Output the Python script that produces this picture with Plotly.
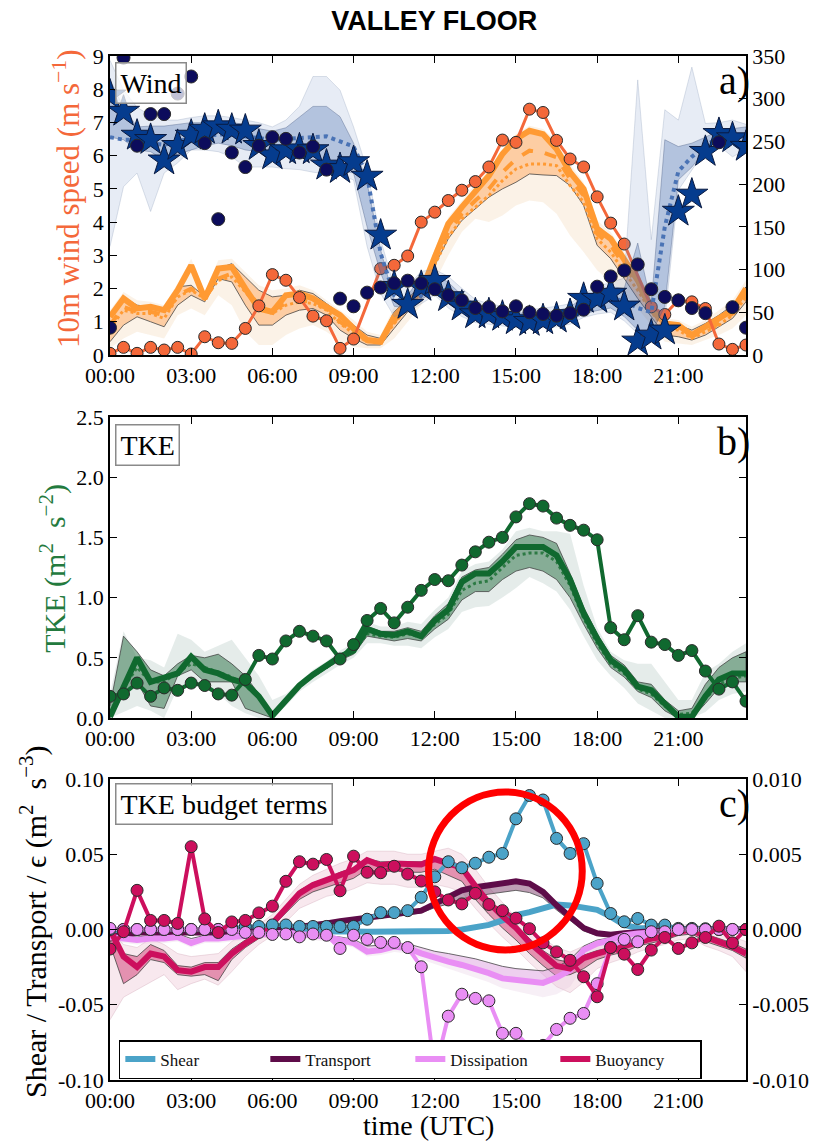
import plotly.graph_objects as go

SERIF = "Liberation Serif, Times New Roman, serif"

# ---------------- time axis (hours UTC, 30-min steps) ----------------
T = [0.0, 0.5, 1.0, 1.5, 2.0, 2.5, 3.0, 3.5, 4.0, 4.5, 5.0, 5.5, 6.0, 6.5, 7.0, 7.5,
     8.0, 8.5, 9.0, 9.5, 10.0, 10.5, 11.0, 11.5, 12.0, 12.5, 13.0, 13.5, 14.0, 14.5,
     15.0, 15.5, 16.0, 16.5, 17.0, 17.5, 18.0, 18.5, 19.0, 19.5, 20.0, 20.5, 21.0,
     21.5, 22.0, 22.5, 23.0, 23.5]
HOUR_TICKS = [0, 3, 6, 9, 12, 15, 18, 21]
HOUR_LABELS = ["00:00", "03:00", "06:00", "09:00", "12:00", "15:00", "18:00", "21:00"]

# ---------------- panel a: wind ----------------
wspd_obs = [0.05, 0.23, 0.05, 0.23, 0.15, 0.23, 0.03, 0.55, 0.37, 0.35, 0.8, 1.48, 2.42, 2.25,
            1.73, 1.17, 1.03, 0.2, 0.48, None, 2.6, 2.7, 2.98, 4.0, 4.3, 4.65, 4.96, 5.22, 5.66,
            6.47, 6.4, 7.4, 7.3, 6.46, 5.9, 5.66, 4.76, 3.97, 3.34, None, 1.45, 1.22, 1.65, 1.6,
            1.4, 0.33, 0.17, 0.3]
wspd_main = [1.15, 1.7, 1.4, 1.45, 1.35, 1.95, 2.7, 1.7, 2.6, 2.65, 2.0, 1.4, 1.3, 1.8, 1.85,
             1.7, 1.45, 1.2, 0.8, 0.45, 0.4, 1.15, 1.6, 1.9, 2.95, 3.95, 4.45, 4.95, 5.4, 6.05,
             6.5, 6.75, 6.65, 6.2, 5.5, 5.0, 3.8, 3.5, 2.9, 2.25, 1.4, 0.95, 0.9, 0.6, 0.85, 1.1,
             1.35, 2.0]
wspd_dash = [0.9, 1.45, 1.3, 1.3, 1.2, 1.8, 2.0, 1.7, 2.3, 2.45, 2.0, 1.5, 1.35, 1.55, 1.65, 1.6,
             1.4, 1.0, 0.7, 0.45, 0.4, 1.0, 1.5, 1.85, 2.8, 3.7, 4.25, 4.65, 5.0, 5.5, 5.9, 6.15,
             6.1, 5.95, 5.3, 4.8, 3.65, 3.3, 2.7, 2.1, 1.35, 0.85, 0.8, 0.55, 0.75, 0.95, 1.25, 1.85]
wspd_dot = [0.8, 1.35, 1.25, 1.25, 1.1, 1.75, 1.95, 1.7, 2.25, 2.35, 1.9, 1.4, 1.25, 1.5, 1.6,
            1.55, 1.35, 0.95, 0.65, 0.4, 0.4, 0.95, 1.45, 1.8, 2.72, 3.55, 4.1, 4.45, 4.8, 5.25,
            5.6, 5.75, 5.75, 5.7, 5.1, 4.6, 3.5, 3.1, 2.5, 1.95, 1.3, 0.8, 0.75, 0.5, 0.7, 0.9,
            1.2, 1.75]
wspd_dhi = [1.2, 1.75, 1.5, 1.45, 1.35, 2.05, 2.1, 1.75, 2.6, 2.75, 2.35, 1.95, 1.75, 1.8, 1.95,
            1.85, 1.55, 1.25, 0.9, 0.6, 0.5, 1.3, 1.7, 2.1, 3.0, 4.0, 4.5, 5.0, 5.45, 6.1, 6.55,
            6.8, 6.7, 6.3, 5.6, 5.05, 3.9, 3.55, 2.95, 2.3, 1.6, 0.95, 0.9, 0.75, 0.95, 1.2, 1.5, 2.05]
wspd_dlo = [0.4, 0.9, 1.15, 1.0, 0.85, 1.5, 1.8, 1.6, 2.3, 2.2, 1.5, 0.9, 0.9, 1.2, 1.35, 1.4,
            1.2, 0.75, 0.5, 0.3, 0.3, 0.8, 1.3, 1.7, 2.7, 3.5, 4.05, 4.4, 4.75, 5.0, 5.2, 5.45,
            5.42, 5.4, 5.1, 4.5, 3.3, 2.9, 2.3, 1.7, 1.15, 0.6, 0.55, 0.45, 0.6, 0.85, 1.1, 1.6]
wspd_lhi = [1.35, 1.9, 1.65, 1.6, 1.5, 2.15, 2.9, 1.9, 2.85, 2.9, 2.5, 2.1, 1.95, 2.0, 2.1, 1.95,
            1.65, 1.35, 1.05, 0.7, 0.6, 1.45, 1.8, 2.2, 3.15, 4.15, 4.65, 5.15, 5.6, 6.2, 6.65,
            6.9, 6.8, 6.45, 5.75, 5.2, 4.05, 3.7, 3.1, 2.45, 1.75, 1.1, 1.05, 0.85, 1.05, 1.35,
            1.65, 2.25]
wspd_llo = [0.2, 0.5, 0.7, 0.6, 0.5, 1.2, 1.4, 1.2, 1.8, 1.5, 0.7, 0.3, 0.3, 0.6, 0.8, 0.9, 0.7,
            0.4, 0.25, 0.2, 0.2, 0.5, 1.0, 1.5, 2.2, 3.0, 3.7, 4.1, 4.0, 4.2, 4.5, 4.65, 4.6,
            4.25, 3.6, 3.1, 2.55, 2.2, 1.85, 1.4, 0.9, 0.4, 0.35, 0.3, 0.45, 0.6, 0.8, 1.2]

wdir_obs = [32, 348, 245, 282, 282, 306, 326, 248, 159, 237, 220, 245, 255, 253, 237, 244, 217,
            66, 57, 73, 79, 84, 87, 84, 77, 70, 64, 55, 56, 51, 57, 50, 48, 46, 49, 53, 80, 92,
            99, 106, 77, 68, 64, 55, 49, 249, 56, 32]
wdir_star = [304, 285, 257, 252, 228, 245, 257, 264, 268, 264, 263, 245, 234, 240, 241, 240, 222,
             218, 226, 209, 140, 80, 59, 80, 87, 68, 57, 48, 48, 45, 41, 39, 41, 43, 47, 66, 66,
             72, 57, 16, 23, 29, 168, 188, 238, 259, 254, 244]
wdir_dot = [255, 252, 252, 248, 246, 250, 254, 256, 258, 258, 256, 254, 252, 253, 254, 256, 256,
            250, 244, 210, 119, 70, 60, 70, 85, 72, 60, 52, 48, 45, 44, 43, 44, 46, 50, 58, 62,
            66, 64, 55, 50, 150, 215, 232, 245, 255, 258, 255]
wdir_dhi = [322, 290, 267, 268, 268, 270, 272, 272, 274, 272, 270, 265, 262, 266, 278, 291, 291,
            279, 248, 201, 123, 64, 70, 92, 95, 85, 70, 60, 55, 52, 50, 48, 50, 52, 56, 68, 75,
            80, 78, 131, 60, 252, 244, 248, 255, 263, 265, 267]
wdir_dlo = [255, 252, 240, 238, 228, 235, 240, 245, 248, 245, 240, 238, 236, 235, 234, 228, 220,
            216, 213, 150, 96, 57, 55, 65, 75, 60, 50, 42, 40, 38, 36, 35, 36, 37, 40, 48, 52, 55,
            45, 29, 25, 57, 205, 220, 240, 252, 252, 250]
wdir_lhi = [345, 310, 290, 280, 275, 275, 278, 280, 280, 278, 275, 272, 267, 275, 291, 326, 326,
            310, 267, 217, 135, 80, 80, 98, 100, 92, 78, 65, 60, 57, 55, 53, 55, 57, 60, 72, 80,
            85, 90, 322, 135, 287, 275, 337, 271, 272, 275, 270]
wdir_llo = [127, 197, 213, 168, 213, 225, 240, 240, 238, 232, 220, 220, 220, 218, 217, 214, 212,
            210, 205, 127, 72, 45, 50, 60, 70, 55, 45, 38, 36, 34, 32, 31, 32, 33, 36, 44, 48, 50,
            40, 25, 25, 41, 193, 216, 240, 245, 232, 240]

# ---------------- panel b: TKE ----------------
tke_obs = [0.18, 0.2, 0.29, 0.18, 0.25, 0.23, 0.29, 0.27, 0.2, 0.19, 0.32, 0.52, 0.49, 0.64, 0.72,
           0.68, 0.64, 0.49, 0.61, 0.81, 0.91, 0.79, 0.92, 1.06, 1.15, 1.14, 1.27, 1.38, 1.46,
           1.5, 1.67, 1.78, 1.76, 1.66, 1.6, 1.56, 1.48, 0.75, 0.65, 0.85, 0.63, 0.61, 0.52,
           0.56, 0.39, 0.24, 0.3, 0.14]
tke_main = [0.01, 0.27, 0.5, 0.3, 0.33, 0.37, 0.51, 0.4, 0.37, 0.32, 0.29, 0.18, 0.02, 0.15, 0.27,
            0.36, 0.43, 0.51, 0.56, 0.74, 0.7, 0.69, 0.72, 0.68, 0.81, 0.9, 1.13, 1.2, 1.2, 1.3,
            1.42, 1.42, 1.42, 1.35, 1.15, 0.87, 0.66, 0.48, 0.4, 0.26, 0.23, 0.12, 0.01, 0.01,
            0.18, 0.32, 0.37, 0.37]
tke_dot = [0.05, 0.25, 0.42, 0.3, 0.3, 0.38, 0.45, 0.42, 0.38, 0.34, 0.27, 0.17, 0.03, 0.15, 0.27,
           0.35, 0.42, 0.5, 0.55, 0.7, 0.68, 0.67, 0.7, 0.67, 0.78, 0.86, 1.06, 1.12, 1.14, 1.25,
           1.35, 1.37, 1.37, 1.3, 1.1, 0.83, 0.62, 0.45, 0.37, 0.24, 0.2, 0.1, 0.03, 0.04, 0.16,
           0.28, 0.33, 0.35]
tke_dhi = [0.1, 0.68, 0.55, 0.4, 0.35, 0.45, 0.52, 0.5, 0.53, 0.45, 0.35, 0.2, 0.05, 0.16, 0.28,
           0.37, 0.44, 0.53, 0.58, 0.76, 0.72, 0.72, 0.75, 0.72, 0.85, 0.95, 1.17, 1.23, 1.25,
           1.36, 1.48, 1.52, 1.5, 1.45, 1.2, 0.92, 0.7, 0.52, 0.44, 0.3, 0.28, 0.15, 0.06, 0.08,
           0.28, 0.42, 0.5, 0.55]
tke_dlo = [0.0, 0.2, 0.3, 0.1, 0.08, 0.35, 0.4, 0.3, 0.3, 0.3, 0.08, 0.04, 0.0, 0.13, 0.25, 0.34,
           0.41, 0.48, 0.53, 0.68, 0.66, 0.64, 0.66, 0.64, 0.74, 0.82, 0.98, 1.05, 1.05, 1.15,
           1.22, 1.25, 1.22, 1.15, 1.0, 0.78, 0.58, 0.42, 0.34, 0.22, 0.17, 0.06, 0.0, 0.0, 0.12,
           0.25, 0.3, 0.3]
tke_lhi = [0.2, 0.72, 0.5, 0.48, 0.42, 0.7, 0.65, 0.55, 0.6, 0.65, 0.5, 0.35, 0.15, 0.2, 0.3, 0.4,
           0.47, 0.56, 0.62, 0.8, 0.76, 0.76, 0.8, 0.78, 0.9, 1.0, 1.22, 1.28, 1.3, 1.4, 1.55,
           1.58, 1.55, 1.55, 1.53, 1.1, 0.75, 0.55, 0.48, 0.45, 0.45, 0.3, 0.15, 0.15, 0.38,
           0.45, 0.55, 0.62]
tke_llo = [0.0, 0.05, 0.1, 0.06, 0.0, 0.25, 0.3, 0.25, 0.2, 0.1, 0.04, 0.0, 0.0, 0.1, 0.22, 0.3,
           0.37, 0.44, 0.5, 0.62, 0.62, 0.6, 0.6, 0.58, 0.67, 0.74, 0.88, 0.92, 0.93, 1.0, 1.08,
           1.17, 1.12, 1.05, 0.9, 0.68, 0.48, 0.35, 0.25, 0.12, 0.06, 0.0, 0.0, 0.0, 0.05, 0.15,
           0.2, 0.22]

# ---------------- panel c: TKE budget ----------------
buoy_obs = [-0.013, -0.0015, 0.026, 0.006, 0.006, 0.004, 0.055, 0.007, -0.002, 0.005, 0.006,
            0.011, 0.0155, 0.032, 0.045, 0.0434, 0.0465, 0.0257, 0.0487, 0.038, 0.0377, 0.042,
            0.0368, 0.0322, 0.025, 0.0196, 0.017, 0.024, 0.0166, 0.0125, 0.0075, 0.0005, -0.0089,
            -0.0149, -0.0205, -0.0314, -0.0447, -0.012, -0.0164, -0.0266, -0.0137, -0.0053,
            -0.0126, -0.0089, -0.0053, 0.0022, -0.0089, 0.0]
shear_obs = [0.0, 0.0, 0.0, 0.0, 0.0, 0.0, 0.0, 0.0, 0.0, 0.001, 0.002, 0.002, 0.003, 0.003, 0.002,
             0.002, 0.002, 0.002, 0.002, 0.0068, 0.0112, 0.0112, 0.0125, 0.0214, 0.035, 0.045,
             0.041, 0.044, 0.048, 0.0505, 0.0735, 0.089, 0.086, 0.0605, 0.0505, 0.057, 0.0306,
             0.0106, 0.0051, 0.0073, 0.0029, 0.0029, 0.0007, 0.0007, 0.0005, 0.0, 0.0, 0.0]
diss_obs = [0.0007, 0.0, 0.0, 0.0, 0.0, 0.0, 0.0, 0.0, 0.0, 0.0, -0.002, -0.002, -0.0033, -0.003,
            -0.0049, -0.003, -0.0038, -0.0126, -0.0038, -0.0066, -0.0086, -0.0086, -0.012,
            -0.0248, -0.094, -0.0576, -0.043, -0.0458, -0.0474, -0.069, -0.069, -0.078, -0.077,
            -0.0664, -0.059, -0.0558, -0.036, -0.012, -0.0066, -0.0082, -0.0015, -0.0015, 0.0,
            0.0, 0.0, 0.0, 0.0, 0.0]
shear_mod = [-0.0005, -0.0005, -0.0005, -0.0005, -0.0005, -0.0005, -0.0005, -0.0005, -0.0005,
             -0.0005, -0.0005, -0.0005, -0.0005, -0.001, -0.001, -0.001, -0.0012, -0.0013,
             -0.0014, -0.0015, -0.0015, -0.0015, -0.0015, -0.0015, -0.0012, -0.001, 0.0, 0.001,
             0.003, 0.006, 0.0095, 0.0115, 0.0145, 0.0165, 0.016, 0.015, 0.013, 0.0085, 0.003,
             0.001, 0.0005, 0.0005, 0.0003, 0.0002, 0.0002, 0.0, 0.0, 0.0]
trans_mod = [-0.005, -0.003, -0.002, -0.002, -0.002, -0.002, -0.002, -0.002, -0.002, -0.001,
             -0.001, -0.0005, 0.0, 0.0007, 0.0015, 0.003, 0.004, 0.0055, 0.0065, 0.0075, 0.009,
             0.0095, 0.0105, 0.0125, 0.017, 0.021, 0.026, 0.028, 0.0295, 0.031, 0.032, 0.0305,
             0.025, 0.016, 0.008, 0.001, -0.0025, -0.0035, -0.0025, -0.0015, -0.001, -0.0005,
             0.0, 0.0, 0.0, 0.0, 0.0, 0.0]
trans_hi = [-0.004, -0.002, -0.001, -0.001, -0.001, -0.001, -0.001, -0.001, -0.001, 0.0, 0.0,
            0.0005, 0.001, 0.0015, 0.0025, 0.004, 0.005, 0.0065, 0.0075, 0.0085, 0.01, 0.0105,
            0.0115, 0.0135, 0.018, 0.022, 0.027, 0.029, 0.0305, 0.032, 0.033, 0.0315, 0.026,
            0.017, 0.009, 0.002, -0.0015, -0.0025, -0.0015, -0.0005, 0.0, 0.0005, 0.001, 0.001,
            0.001, 0.001, 0.001, 0.001]
trans_lo = [-0.008, -0.005, -0.003, -0.003, -0.003, -0.003, -0.003, -0.003, -0.003, -0.002,
            -0.002, -0.0015, -0.001, 0.0, 0.0008, 0.002, 0.003, 0.0045, 0.0055, 0.0065, 0.008,
            0.0085, 0.0095, 0.011, 0.0145, 0.017, 0.0205, 0.022, 0.0235, 0.025, 0.026, 0.0245,
            0.021, 0.013, 0.006, -0.001, -0.004, -0.005, -0.004, -0.003, -0.002, -0.0015, -0.001,
            -0.001, -0.001, -0.001, -0.001, -0.001]
diss_mod = [-0.005, -0.006, -0.007, -0.006, -0.006, -0.005, -0.009, -0.006, -0.006, -0.005,
            -0.004, -0.003, -0.002, -0.002, -0.003, -0.004, -0.0048, -0.0069, -0.009, -0.0147,
            -0.0136, -0.0114, -0.0125, -0.0159, -0.019, -0.0214, -0.0236, -0.0258, -0.029,
            -0.0325, -0.0336, -0.035, -0.0355, -0.032, -0.027, -0.0137, -0.0093, -0.0071,
            -0.0038, -0.0027, -0.002, -0.001, -0.001, -0.001, -0.001, -0.001, -0.001, -0.001]
diss_hi = [-0.003, -0.004, -0.005, -0.004, -0.004, -0.003, -0.006, -0.004, -0.004, -0.003, -0.002,
           -0.0015, -0.001, -0.001, -0.002, -0.003, -0.0035, -0.005, -0.0065, -0.011, -0.0105,
           -0.009, -0.0095, -0.012, -0.0145, -0.016, -0.0175, -0.0195, -0.022, -0.0245, -0.026,
           -0.027, -0.0275, -0.025, -0.02, -0.011, -0.007, -0.0055, -0.0028, -0.002, -0.0015,
           -0.0007, -0.0007, -0.0007, -0.0007, -0.0007, -0.0007, -0.0007]
diss_llo = [-0.008, -0.009, -0.01, -0.009, -0.009, -0.008, -0.012, -0.009, -0.009, -0.008, -0.007,
            -0.006, -0.005, -0.005, -0.006, -0.007, -0.008, -0.01, -0.012, -0.018, -0.017,
            -0.015, -0.016, -0.02, -0.023, -0.026, -0.029, -0.032, -0.035, -0.039, -0.041,
            -0.043, -0.045, -0.043, -0.038, -0.024, -0.015, -0.011, -0.007, -0.005, -0.004,
            -0.003, -0.003, -0.003, -0.003, -0.003, -0.003, -0.003]
buoy_mod = [0.0, -0.018, -0.025, -0.016, -0.018, -0.027, -0.028, -0.025, -0.025, -0.016, -0.0093,
            -0.0038, 0.004, 0.014, 0.024, 0.0295, 0.0328, 0.037, 0.0394, 0.046, 0.0427, 0.0438,
            0.0432, 0.0432, 0.0468, 0.0443, 0.041, 0.0288, 0.0177, 0.0089, 0.0011, -0.0088,
            -0.0166, -0.0243, -0.026, -0.019, -0.016, -0.0137, -0.0115, -0.0082, -0.006, -0.0049,
            -0.0015, 0.0, -0.0049, -0.0082, -0.0115, -0.016]
buoy_dhi = [0.0, -0.016, -0.018, -0.01, -0.014, -0.024, -0.025, -0.022, -0.022, -0.013, -0.007,
            -0.002, 0.006, 0.016, 0.026, 0.031, 0.034, 0.038, 0.041, 0.047, 0.045, 0.045, 0.045,
            0.045, 0.047, 0.045, 0.042, 0.031, 0.02, 0.011, 0.003, -0.006, -0.014, -0.02, -0.022,
            -0.017, -0.014, -0.012, -0.01, -0.007, -0.005, -0.004, -0.001, 0.001, -0.003, -0.006,
            -0.009, -0.013]
buoy_dlo = [-0.01, -0.036, -0.03, -0.02, -0.022, -0.03, -0.031, -0.03, -0.034, -0.02, -0.012,
            -0.006, 0.002, 0.011, 0.02, 0.025, 0.028, 0.031, 0.034, 0.04, 0.038, 0.039, 0.038,
            0.038, 0.04, 0.036, 0.032, 0.02, 0.01, 0.001, -0.007, -0.016, -0.024, -0.031, -0.03,
            -0.026, -0.02, -0.017, -0.015, -0.011, -0.009, -0.007, -0.004, -0.003, -0.008, -0.011,
            -0.014, -0.019]
buoy_lhi = [0.0, -0.01, -0.012, -0.006, -0.01, -0.016, -0.018, -0.017, -0.016, -0.008, -0.002,
            0.003, 0.01, 0.02, 0.03, 0.036, 0.04, 0.044, 0.047, 0.052, 0.052, 0.052, 0.05, 0.05,
            0.052, 0.054, 0.05, 0.04, 0.028, 0.018, 0.008, 0.0, -0.006, -0.012, -0.015, -0.011,
            -0.009, -0.008, -0.006, -0.004, -0.002, -0.001, 0.002, 0.004, 0.001, -0.002, -0.005,
            -0.008]
buoy_llo = [-0.06, -0.045, -0.04, -0.035, -0.03, -0.04, -0.036, -0.033, -0.037, -0.028, -0.018,
            -0.01, -0.004, 0.005, 0.014, 0.018, 0.022, 0.024, 0.027, 0.031, 0.03, 0.03, 0.028,
            0.028, 0.03, 0.028, 0.025, 0.014, 0.004, -0.005, -0.013, -0.022, -0.03, -0.038,
            -0.042, -0.035, -0.026, -0.022, -0.019, -0.015, -0.012, -0.01, -0.007, -0.006, -0.011,
            -0.014, -0.018, -0.028]

A_LEFT_TICKS = [0, 1, 2, 3, 4, 5, 6, 7, 8, 9]
A_RIGHT_TICKS = [0, 50, 100, 150, 200, 250, 300, 350]
B_TICKS = [0.0, 0.5, 1.0, 1.5, 2.0, 2.5]
B_LABELS = ["0.0", "0.5", "1.0", "1.5", "2.0", "2.5"]
C_TICKS = [-0.1, -0.05, 0.0, 0.05, 0.1]
C_LABELS = ["-0.10", "-0.05", "0.00", "0.05", "0.10"]
C2_TICKS = [-0.01, -0.005, 0.0, 0.005, 0.01]
C2_LABELS = ["-0.010", "-0.005", "0.000", "0.005", "0.010"]

# ---------------- colours ----------------
ORANGE_OBS = "#f4683a"
ORANGE_MOD = "#ff9a33"
NAVY = "#0c0c5c"
STAR = "#053c8e"
GREEN = "#10692f"
SHEAR = "#4ba3c8"
TRANSPORT = "#5e0c49"
DISSIP = "#e98ef4"
BUOY = "#cc0f5d"
EDGE = "rgba(60,60,60,0.75)"

fig = go.Figure()


def band(hi, lo, fill, xa, ya, edge=None):
    fig.add_trace(go.Scatter(
        x=T + T[::-1], y=hi + lo[::-1], fill="toself", fillcolor=fill, mode="lines",
        line=dict(color=edge if edge else "rgba(0,0,0,0)", width=1 if edge else 0),
        xaxis=xa, yaxis=ya, showlegend=False, hoverinfo="skip"))


def line(y, color, width, xa, ya, dash="solid", name=None, legend=False):
    fig.add_trace(go.Scatter(
        x=T, y=y, mode="lines", line=dict(color=color, width=width, dash=dash),
        xaxis=xa, yaxis=ya, name=name, showlegend=legend, hoverinfo="skip"))


def obs(y, color, xa, ya, lw=3.5, size=12, with_line=True):
    fig.add_trace(go.Scatter(
        x=T, y=y, mode="lines+markers" if with_line else "markers", connectgaps=True,
        line=dict(color=color, width=lw),
        marker=dict(color=color, size=size, line=dict(color="#2a2a2a", width=1)),
        xaxis=xa, yaxis=ya, showlegend=False, hoverinfo="skip"))


# ---- panel a (orange on left axis) ----
band(wspd_lhi, wspd_llo, "rgba(240,210,170,0.28)", "x", "y")
band(wspd_dhi, wspd_dlo, "rgba(255,160,80,0.45)", "x", "y", EDGE)
line(wspd_dot, ORANGE_MOD, 3, "x", "y", "dot")
line(wspd_dash, ORANGE_MOD, 4, "x", "y", "dash")
line(wspd_main, ORANGE_MOD, 6, "x", "y")
obs(wspd_obs, ORANGE_OBS, "x", "y", lw=3, size=12)
# ---- panel a (direction on right axis) ----
band(wdir_lhi, wdir_llo, "rgba(110,145,195,0.17)", "x", "y4", "rgba(120,140,170,0.25)")
band(wdir_dhi, wdir_dlo, "rgba(60,100,170,0.3)", "x", "y4", "rgba(60,80,120,0.35)")
line(wdir_dot, "#4a73b5", 4, "x", "y4", "dot")
fig.add_trace(go.Scatter(x=T, y=wdir_star, mode="markers", xaxis="x", yaxis="y4",
                         marker=dict(symbol="star", size=24, color=STAR,
                                     line=dict(color="#0a1a40", width=1)),
                         showlegend=False, hoverinfo="skip"))
obs(wdir_obs, NAVY, "x", "y4", size=13, with_line=False)

# ---- panel b ----
band(tke_lhi, tke_llo, "rgba(175,195,190,0.32)", "x2", "y2")
band(tke_dhi, tke_dlo, "rgba(40,110,65,0.5)", "x2", "y2", EDGE)
line(tke_dot, "#2d7a44", 3, "x2", "y2", "dot")
line(tke_main, GREEN, 6, "x2", "y2")
obs(tke_obs, GREEN, "x2", "y2", lw=4, size=12)

# ---- panel c ----
band(buoy_lhi, buoy_llo, "rgba(215,130,160,0.18)", "x3", "y3", "rgba(200,150,170,0.3)")
band(diss_hi, diss_llo, "rgba(225,190,220,0.25)", "x3", "y3")
band(buoy_dhi, buoy_dlo, "rgba(205,40,100,0.45)", "x3", "y3", EDGE)
band(diss_hi, diss_mod, "rgba(220,150,225,0.35)", "x3", "y3", EDGE)
band(trans_hi, trans_lo, "rgba(110,40,90,0.45)", "x3", "y3", EDGE)
line(shear_mod, SHEAR, 6, "x3", "y3", name="Shear", legend=True)
line(trans_mod, TRANSPORT, 6, "x3", "y3", name="Transport", legend=True)
line(diss_mod, DISSIP, 6, "x3", "y3", name="Dissipation", legend=True)
line(buoy_mod, BUOY, 6, "x3", "y3", name="Buoyancy", legend=True)
obs(shear_obs, SHEAR, "x3", "y3", lw=4, size=12)
obs(diss_obs, DISSIP, "x3", "y3", lw=4, size=12)
obs(buoy_obs, BUOY, "x3", "y3", lw=4, size=12)
# anchor trace for the right-hand budget axis
fig.add_trace(go.Scatter(x=[T[0]], y=[0.0], mode="markers", marker=dict(opacity=0),
                         xaxis="x3", yaxis="y5", showlegend=False, hoverinfo="skip"))

# ---------------- axes ----------------
tickfont = dict(family=SERIF, size=22, color="black")
common = dict(showline=True, linecolor="black", linewidth=1.5, ticks="inside", ticklen=7,
              tickwidth=1.2, tickcolor="black", showgrid=False, zeroline=False,
              tickfont=tickfont)
xcommon = dict(common, range=[0, 23.5], tickmode="array", tickvals=HOUR_TICKS,
               ticktext=HOUR_LABELS, mirror="ticks", domain=[0, 1])

DOM_A = [0.708, 1.0]
DOM_B = [0.3535, 0.6475]
DOM_C = [0.0, 0.294]

fig.update_layout(
    width=821, height=1141,
    margin=dict(l=110, r=62, t=56, b=61),
    paper_bgcolor="white", plot_bgcolor="white",
    xaxis=dict(xcommon, anchor="y"),
    xaxis2=dict(xcommon, anchor="y2"),
    xaxis3=dict(xcommon, anchor="y3"),
    yaxis=dict(common, domain=DOM_A, range=[0, 9], tickmode="array",
               tickvals=A_LEFT_TICKS, mirror=True, anchor="x"),
    yaxis4=dict(common, overlaying="y", side="right", anchor="x", range=[0, 350],
                tickmode="array", tickvals=A_RIGHT_TICKS),
    yaxis2=dict(common, domain=DOM_B, range=[0, 2.5], tickmode="array", tickvals=B_TICKS,
                ticktext=B_LABELS, mirror="ticks", anchor="x2"),
    yaxis3=dict(common, domain=DOM_C, range=[-0.1, 0.1], tickmode="array", tickvals=C_TICKS,
                ticktext=C_LABELS, mirror=True, anchor="x3"),
    yaxis5=dict(common, overlaying="y3", side="right", anchor="x3", range=[-0.01, 0.01],
                tickmode="array", tickvals=C2_TICKS, ticktext=C2_LABELS),
    title=dict(text="<b>VALLEY FLOOR</b>", x=0.529, xanchor="center", y=0.9816,
               yanchor="middle", font=dict(family="Liberation Sans, Arial, sans-serif",
                                           size=27, color="black")),
    legend=dict(orientation="h", x=0.0139, y=0.039, xanchor="left", yanchor="top",
                bgcolor="white", bordercolor="black", borderwidth=1.5,
                font=dict(family=SERIF, size=17, color="#111"),
                itemwidth=30, entrywidth=100, entrywidthmode="pixels"),
    showlegend=True,
)

box = dict(showarrow=False, xanchor="left", yanchor="top", bordercolor="#8a8a8a",
           borderwidth=1.5, borderpad=4, bgcolor="rgba(255,255,255,0.75)",
           font=dict(family=SERIF, size=28, color="black"))
fig.add_annotation(box, text="Wind", xref="x domain", yref="y domain", x=0.008, y=0.98)
fig.add_annotation(box, text="TKE", xref="x2 domain", yref="y2 domain", x=0.008, y=0.977)
fig.add_annotation(box, text="TKE budget terms", xref="x3 domain", yref="y3 domain",
                   x=0.008, y=0.985)

letter = dict(showarrow=False, xanchor="right", yanchor="top",
              font=dict(family=SERIF, size=40, color="black"))
fig.add_annotation(letter, text="a)", xref="x domain", yref="y domain", x=1.01, y=1.0)
fig.add_annotation(letter, text="b)", xref="x2 domain", yref="y2 domain", x=1.01, y=1.0)
fig.add_annotation(letter, text="c)", xref="x3 domain", yref="y3 domain", x=1.01, y=1.0)

ylab = dict(showarrow=False, xref="paper", yref="paper", textangle=-90,
            xanchor="center", yanchor="middle")
fig.add_annotation(ylab, text="10m wind speed (m s<sup>−1</sup>)", x=-0.068, y=0.861,
                   font=dict(family=SERIF, size=31, color=ORANGE_OBS))
fig.add_annotation(ylab, text="TKE (m<sup>2</sup>  s<sup>−2</sup>)", x=-0.09, y=0.5,
                   font=dict(family=SERIF, size=30, color="#237a3e"))
fig.add_annotation(ylab, text="Shear / Transport / ϵ (m<sup>2</sup>  s<sup>−3</sup>)",
                   x=-0.12, y=0.155, font=dict(family=SERIF, size=30, color="black"))
fig.add_annotation(showarrow=False, xref="paper", yref="paper", x=0.5, y=-0.044,
                   xanchor="center", yanchor="middle", text="time (UTC)",
                   font=dict(family=SERIF, size=28, color="black"))

# red highlight circle on panel c
fig.add_shape(type="circle", xref="x3", yref="y3", x0=11.77, x1=17.45, y0=-0.0136, y1=0.0914,
              line=dict(color="#ff0000", width=7))

fig.write_html("out.html")
